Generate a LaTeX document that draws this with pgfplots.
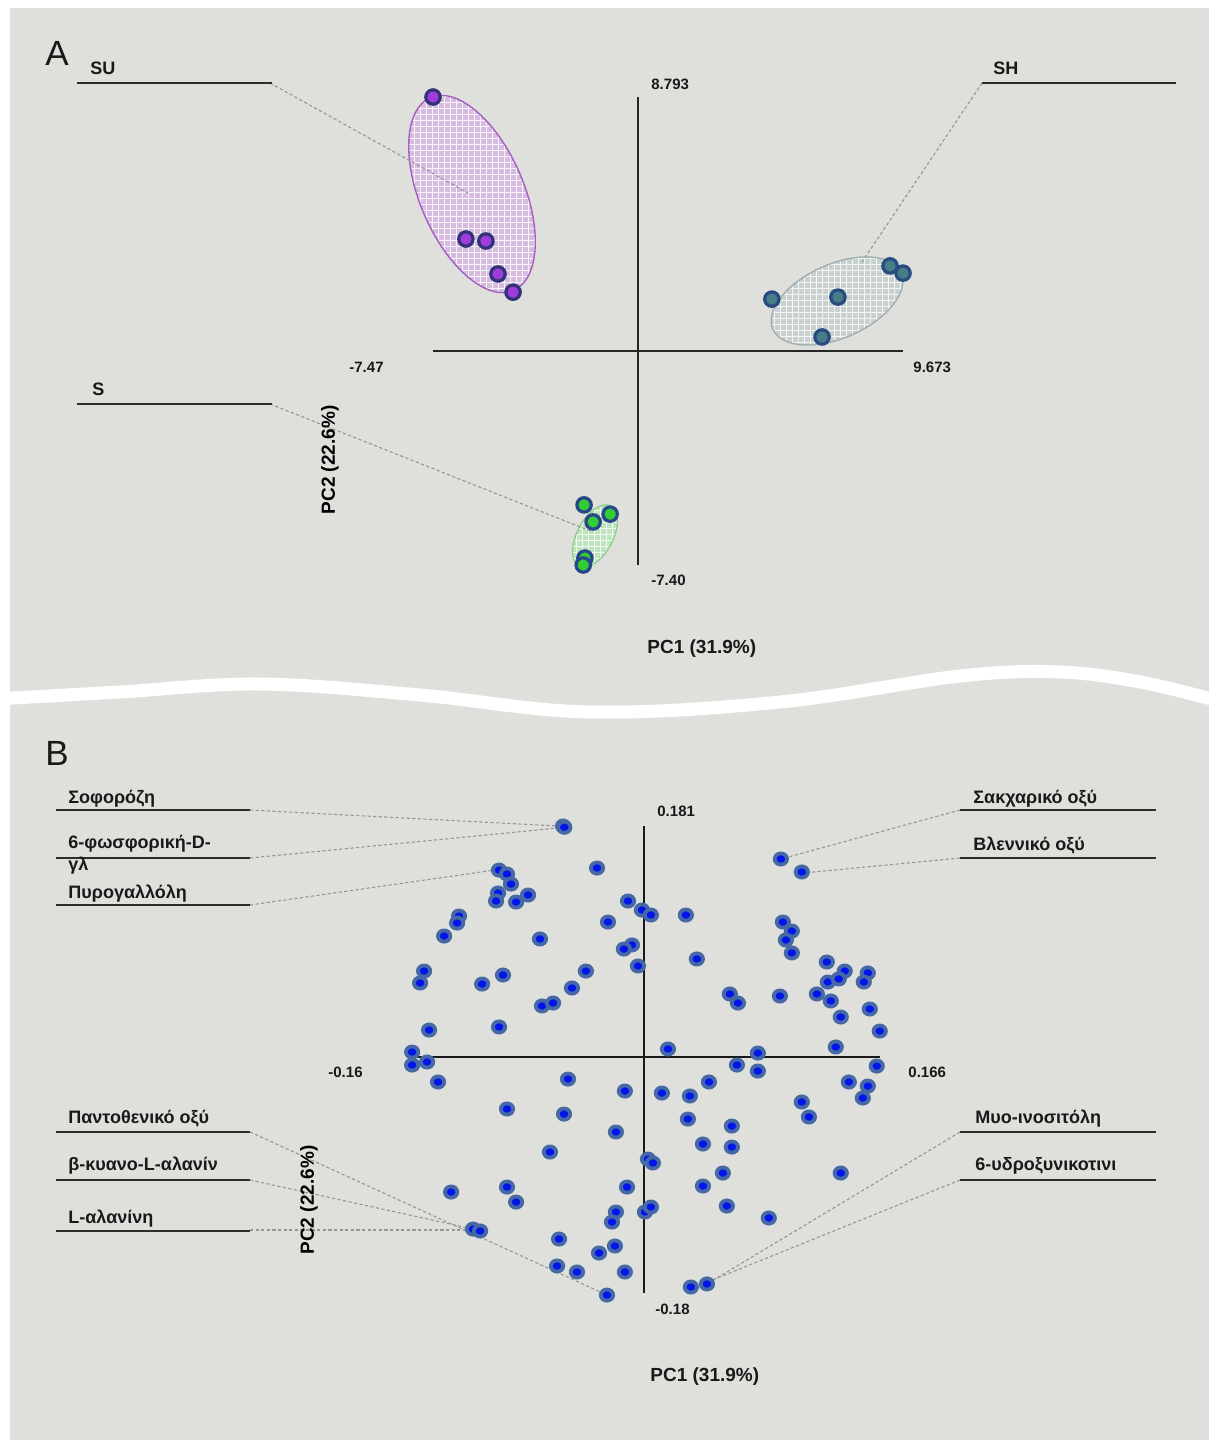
\documentclass[border=0pt]{standalone}
\usepackage{pgfplots}
\pgfplotsset{compat=1.18}
\usepackage{pgfplotstable}
\usepackage{fontspec}
\setmainfont{Liberation Sans}
\usetikzlibrary{patterns}
\definecolor{bg}{RGB}{223,223,220}
\definecolor{ldr}{RGB}{150,150,150}
\definecolor{uline}{RGB}{45,45,45}
\definecolor{sufill}{RGB}{214,188,222}
\definecolor{suedge}{RGB}{165,95,195}
\definecolor{sudot}{RGB}{160,60,220}
\definecolor{suring}{RGB}{50,50,120}
\definecolor{shfill}{RGB}{200,208,208}
\definecolor{shedge}{RGB}{160,175,178}
\definecolor{shdot}{RGB}{70,125,135}
\definecolor{shring}{RGB}{40,75,130}
\definecolor{sfill}{RGB}{190,228,190}
\definecolor{sedge}{RGB}{140,205,140}
\definecolor{sdot}{RGB}{50,205,50}
\definecolor{sring}{RGB}{40,70,140}
\definecolor{bdot}{RGB}{0,20,235}
\definecolor{bring}{RGB}{70,105,165}
\newcommand\lbl{\fontsize{9pt}{10pt}\selectfont\bfseries}
\newcommand\num{\fontsize{7.5pt}{9pt}\selectfont\bfseries}
\newcommand\pcl{\fontsize{9.5pt}{11pt}\selectfont\bfseries}

\pgfplotstableread{
x y
-0.0569 0.1810
-0.0560 0.1800
-0.1019 0.1464
-0.0963 0.1433
-0.0935 0.1354
-0.1026 0.1284
-0.1040 0.1221
-0.0899 0.1213
-0.0815 0.1268
-0.0330 0.1480
-0.1300 0.1103
-0.1314 0.1048
-0.1405 0.0946
-0.0731 0.0923
-0.0112 0.1221
-0.0253 0.1056
-0.0014 0.1150
0.0049 0.1111
-0.0084 0.0876
-0.0141 0.0844
-0.0042 0.0711
-0.1546 0.0671
-0.1574 0.0577
-0.1138 0.0569
-0.0991 0.0640
-0.0408 0.0671
-0.0506 0.0538
-0.0717 0.0397
-0.0639 0.0420
-0.1511 0.0208
-0.1019 0.0232
-0.1630 0.0035
-0.1630 -0.0067
-0.1525 -0.0043
-0.1448 -0.0200
-0.0534 -0.0177
-0.0134 -0.0271
0.0126 -0.0287
0.0169 0.0059
0.0963 0.1551
0.1110 0.1449
0.0295 0.1111
0.0977 0.1056
0.1040 0.0985
0.0998 0.0915
0.1040 0.0813
0.0372 0.0766
0.1286 0.0742
0.1412 0.0671
0.1293 0.0585
0.1370 0.0609
0.1574 0.0656
0.1546 0.0585
0.0604 0.0491
0.0661 0.0420
0.0956 0.0475
0.1216 0.0491
0.1314 0.0436
0.1384 0.0310
0.1588 0.0373
0.1658 0.0200
0.1349 0.0075
0.0801 0.0027
0.0654 -0.0067
0.0801 -0.0114
0.1637 -0.0075
0.0457 -0.0200
0.1441 -0.0200
0.1574 -0.0232
0.0323 -0.0310
0.1539 -0.0326
0.1110 -0.0357
-0.0963 -0.0412
-0.0562 -0.0452
-0.0197 -0.0593
-0.0661 -0.0750
0.0028 -0.0805
0.0063 -0.0836
-0.1356 -0.1064
-0.0963 -0.1025
-0.0899 -0.1143
-0.0119 -0.1025
-0.0197 -0.1221
-0.0225 -0.1300
0.0007 -0.1221
0.0049 -0.1182
-0.1202 -0.1355
-0.1152 -0.1370
-0.0597 -0.1433
-0.0204 -0.1488
-0.0316 -0.1543
-0.0611 -0.1645
-0.0471 -0.1692
-0.0134 -0.1692
-0.0260 -0.1873
0.1160 -0.0475
0.0309 -0.0491
0.0618 -0.0546
0.0415 -0.0687
0.0618 -0.0711
0.0555 -0.0915
0.1384 -0.0915
0.0415 -0.1017
0.0583 -0.1174
0.0878 -0.1268
0.0330 -0.1810
0.0443 -0.1786
}\pcaB

\begin{document}
\begin{tikzpicture}
\begin{scope}[x=0.5pt,y=-0.5pt]
 \path[use as bounding box] (0,0) rectangle (1209,1440);
 \fill[white] (0,0) rectangle (1209,1440);
 \fill[bg] (10,8) rectangle (1209,1440);
 \begin{scope}
 \clip (10,8) rectangle (1209,1440);
 \draw[white,line width=6.5pt] plot[smooth,tension=0.6] coordinates {(-5,699) (120,692) (260,684) (420,695) (590,712) (780,702) (960,676) (1060,672) (1140,682) (1215,700)};
 \end{scope}
 % ellipses panel A
 \fill[sufill,rotate around={-66.7:(472,194)}] (472,194) ellipse [x radius=105, y radius=52];
 \fill[pattern=grid,pattern color=white!85!sufill,rotate around={-66.7:(472,194)}] (472,194) ellipse [x radius=105, y radius=52];
 \draw[suedge,line width=0.7pt,rotate around={-66.7:(472,194)}] (472,194) ellipse [x radius=105, y radius=52];
 \fill[shfill,rotate around={23.7:(837,301)}] (837,301) ellipse [x radius=70, y radius=37];
 \fill[pattern=grid,pattern color=white!80!shfill,rotate around={23.7:(837,301)}] (837,301) ellipse [x radius=70, y radius=37];
 \draw[shedge,line width=0.7pt,rotate around={23.7:(837,301)}] (837,301) ellipse [x radius=70, y radius=37];
 \fill[sfill,rotate around={62:(595,536)}] (595,536) ellipse [x radius=34, y radius=18];
 \fill[pattern=grid,pattern color=white!80!sfill,rotate around={62:(595,536)}] (595,536) ellipse [x radius=34, y radius=18];
 \draw[sedge,line width=0.6pt,rotate around={62:(595,536)}] (595,536) ellipse [x radius=34, y radius=18];
 % leaders
 \tikzset{ld/.style={ldr,line width=0.55pt,dash pattern=on 1.6pt off 1.2pt}, ul/.style={uline,line width=1.2pt}}
 \draw[ld] (270,83) -- (468,193);
 \draw[ld] (982,83) -- (862,262);
 \draw[ld] (270,404) -- (593,532);
 \draw[ld] (250,810) -- (558,826);
 \draw[ld] (250,858) -- (558,828);
 \draw[ld] (250,905) -- (495,870);
 \draw[ld] (960,810) -- (781,859);
 \draw[ld] (960,858) -- (803,873);
 \draw[ld] (250,1132) -- (607,1295);
 \draw[ld] (250,1180) -- (473,1229);
 \draw[ld] (250,1230) -- (473,1230);
 \draw[ld] (960,1132) -- (707,1284);
 \draw[ld] (960,1180) -- (700,1285);
 % underlines
 \draw[ul] (77,83) -- (272,83);
 \draw[ul] (982,83) -- (1176,83);
 \draw[ul] (77,404) -- (272,404);
 \draw[ul] (56,810) -- (250,810);
 \draw[ul] (56,858) -- (250,858);
 \draw[ul] (56,905) -- (250,905);
 \draw[ul] (960,810) -- (1156,810);
 \draw[ul] (960,858) -- (1156,858);
 \draw[ul] (56,1132) -- (250,1132);
 \draw[ul] (56,1180) -- (250,1180);
 \draw[ul] (56,1231) -- (250,1231);
 \draw[ul] (960,1132) -- (1156,1132);
 \draw[ul] (960,1180) -- (1156,1180);
 % texts
 \tikzset{t/.style={anchor=base west,inner sep=0pt,text=black!90}}
 \node[t,font=\fontsize{17.5pt}{20pt}\selectfont] at (45,65) {A};
 \node[t,font=\fontsize{17.5pt}{20pt}\selectfont] at (45,765) {B};
 \node[t,font=\lbl] at (90,74) {SU};
 \node[t,font=\lbl] at (993,74) {SH};
 \node[t,font=\lbl] at (92,395) {S};
 \node[t,font=\num] at (651,89) {8.793};
 \node[t,font=\num] at (349,372) {-7.47};
 \node[t,font=\num] at (913,372) {9.673};
 \node[t,font=\num] at (651,585) {-7.40};
 \node[t,font=\pcl] at (647,653) {PC1 (31.9\%)};
 \node[font=\pcl,rotate=90,inner sep=0pt] at (330,460) {PC2 (22.6\%)};
 \node[t,font=\lbl] at (68,803) {Σοφορόζη};
 \node[t,font=\lbl] at (68,848) {6-φωσφορική-D-};
 \node[t,font=\lbl] at (68,870) {γλ};
 \node[t,font=\lbl] at (68,898) {Πυρογαλλόλη};
 \node[t,font=\lbl] at (973,803) {Σακχαρικό οξύ};
 \node[t,font=\lbl] at (973,850) {Βλεννικό οξύ};
 \node[t,font=\lbl] at (68,1123) {Παντοθενικό οξύ};
 \node[t,font=\lbl] at (68,1170) {β-κυανο-L-αλανίν};
 \node[t,font=\lbl] at (68,1223) {L-αλανίνη};
 \node[t,font=\lbl] at (975,1123) {Μυο-ινοσιτόλη};
 \node[t,font=\lbl] at (975,1170) {6-υδροξυνικοτινι};
 \node[t,font=\num] at (657,816) {0.181};
 \node[t,font=\num] at (328,1077) {-0.16};
 \node[t,font=\num] at (908,1077) {0.166};
 \node[t,font=\num] at (655,1314) {-0.18};
 \node[t,font=\pcl] at (650,1381) {PC1 (31.9\%)};
 \node[font=\pcl,rotate=90,inner sep=0pt] at (309,1200) {PC2 (22.6\%)};
\end{scope}

\begin{axis}[at={(216.5pt,-282.5pt)}, anchor=south west, scale only axis,
  width=235pt, height=234pt, xmin=-7.47, xmax=9.673, ymin=-7.40, ymax=8.793,
  axis lines=middle, axis line style={-, line width=1.2pt, black!85},
  every inner x axis line/.append style={-}, every inner y axis line/.append style={-},
  ticks=none, clip=false, enlargelimits=false]
\addplot[only marks, mark=*, mark size=3.6pt, mark options={fill=sudot, draw=suring, line width=1.6pt}]
 coordinates {(-7.47,8.793) (-6.27,3.88) (-5.54,3.81) (-5.10,2.67) (-4.55,2.04)};
\addplot[only marks, mark=*, mark size=3.6pt, mark options={fill=shdot, draw=shring, line width=1.6pt}]
 coordinates {(4.89,1.80) (7.30,1.87) (9.20,2.95) (9.673,2.70) (6.72,0.49)};
\addplot[only marks, mark=*, mark size=3.6pt, mark options={fill=sdot, draw=sring, line width=1.6pt}]
 coordinates {(-1.96,-5.32) (-1.63,-5.91) (-1.01,-5.64) (-1.93,-7.16) (-1.99,-7.40)};
\end{axis}

\begin{axis}[at={(205.5pt,-646.5pt)}, anchor=south west, scale only axis,
  width=234.5pt, height=233.5pt, xmin=-0.1638, xmax=0.166, ymin=-0.1857, ymax=0.181,
  axis lines=middle, axis line style={-, line width=1pt, black!90},
  every inner x axis line/.append style={-}, every inner y axis line/.append style={-},
  ticks=none, clip=false, enlargelimits=false]
\addplot[only marks, mark=*, mark size=2.8pt, mark options={fill=bdot, draw=bring, line width=1.9pt, xscale=1.1}]
 table[x=x,y=y] {\pcaB};
\end{axis}
\end{tikzpicture}
\end{document}
